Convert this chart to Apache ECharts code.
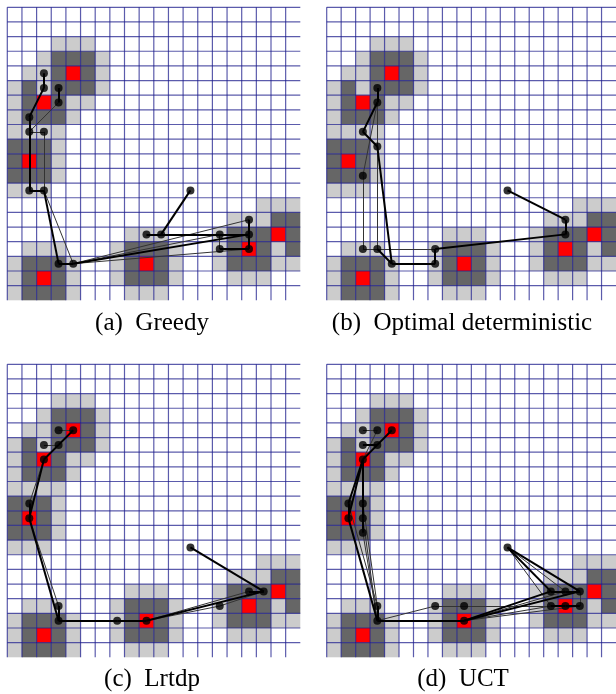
<!DOCTYPE html>
<html>
<head>
<meta charset="utf-8">
<script src="https://cdn.jsdelivr.net/npm/echarts@6/dist/echarts.min.js"></script>
<style>
  html, body { margin: 0; padding: 0; background: #fff; }
  #chart { width: 616px; height: 694px; }
</style>
</head>
<body>
<div id="chart"></div>
<script>
// the map is the same in all four panels, cells are [col, row] counted from top-left
var redCells = [[4,4],[2,6],[1,10],[2,18],[9,17],[16,16],[18,15]]
var darkCells = [
  [3,3],[4,3],[5,3],[3,4],[5,4],[3,5],[4,5],[5,5],
  [1,5],[1,6],[3,6],[1,7],[2,7],[3,7],
  [0,9],[1,9],[2,9],[0,10],[2,10],[0,11],[1,11],[2,11],
  [1,17],[2,17],[3,17],[1,18],[3,18],[1,19],[2,19],[3,19],
  [8,16],[9,16],[10,16],[8,17],[10,17],[8,18],[9,18],[10,18],
  [15,15],[16,15],[17,15],[15,16],[17,16],[15,17],[16,17],[17,17],
  [18,14],[19,14],[19,15],[19,16]
]
var lightCells = [
  [3,2],[4,2],[5,2],
  [2,3],[6,3],
  [1,4],[2,4],[6,4],
  [0,5],[2,5],[6,5],
  [0,6],[4,6],[5,6],
  [0,7],[4,7],
  [0,8],[1,8],[2,8],[3,8],
  [3,9],[3,10],[3,11],
  [0,12],[1,12],[2,12],
  [17,13],[18,13],[19,13],
  [15,14],[16,14],[17,14],
  [8,15],[9,15],[10,15],[14,15],
  [1,16],[2,16],[3,16],[7,16],[11,16],[14,16],[18,16],
  [0,17],[4,17],[7,17],[11,17],[14,17],[18,17],[19,17],
  [0,18],[4,18],[7,18],[11,18],[15,18],[16,18],[17,18],
  [0,19],[4,19],[8,19],[9,19],[10,19]
]
var gridTicks = [0,1,2,3,4,5,6,7,8,9,10,11,12,13,14,15,16,17,18,19]

var captions = ['(a)  Greedy', '(b)  Optimal deterministic', '(c)  Lrtdp', '(d)  UCT']

// trajectories, segments between cells [[c1,r1],[c2,r2]]
var greedyThick = [
  [[2,4],[2,5]], [[2,5],[1,7]], [[3,5],[3,6]], [[1,7],[1,8]], [[1,8],[1,12]], [[1,12],[2,12]],
  [[2,12],[3,17]], [[3,17],[4,17]], [[12,12],[10,15]], [[9,15],[10,15]], [[10,15],[14,15]],
  [[14,15],[16,15]], [[14,16],[16,16]], [[16,14],[16,15]], [[16,15],[16,16]], [[4,17],[16,15]]
]
var greedyThin = [
  [[3,6],[1,8]], [[1,8],[2,8]], [[2,8],[2,12]], [[2,12],[4,17]], [[4,17],[16,14]],
  [[4,17],[14,15]], [[4,17],[16,16]], [[14,15],[14,16]]
]
var optimalThick = [
  [[3,5],[3,6]], [[3,6],[2,8]], [[2,8],[3,9]], [[3,9],[4,17]], [[3,16],[4,17]], [[4,17],[7,17]],
  [[7,17],[7,16]], [[7,16],[16,15]], [[16,15],[16,14]], [[16,14],[12,12]]
]
var optimalThin = [
  [[3,6],[2,11]], [[3,6],[3,16]], [[2,11],[2,16]], [[2,16],[3,16]], [[3,16],[7,16]]
]
var lrtdpThick = [
  [[4,4],[3,5]], [[3,5],[2,6]], [[2,6],[1,10]], [[1,9],[1,10]], [[1,10],[3,17]], [[3,16],[3,17]],
  [[3,17],[7,17]], [[7,17],[9,17]], [[9,17],[17,15]], [[16,15],[17,15]], [[12,12],[17,15]]
]
var lrtdpThin = [
  [[3,4],[4,4]], [[2,5],[3,5]], [[2,6],[1,9]], [[1,10],[3,16]], [[9,17],[14,16]],
  [[9,17],[16,15]], [[14,16],[17,15]]
]
var uctThick = [
  [[4,4],[3,5]], [[3,5],[2,6]], [[2,5],[3,5]], [[2,6],[1,9]], [[2,6],[1,10]], [[2,6],[2,9]],
  [[1,9],[1,10]], [[2,9],[2,10]], [[2,10],[2,11]], [[1,10],[3,17]], [[3,16],[3,17]], [[3,17],[9,17]],
  [[9,17],[15,15]], [[9,17],[17,15]], [[15,15],[16,15]], [[16,15],[17,15]], [[15,16],[16,16]],
  [[16,16],[17,16]], [[12,12],[15,15]], [[12,12],[17,15]]
]
var uctThin = [
  [[2,4],[3,4]], [[3,4],[2,6]], [[1,9],[3,16]], [[2,9],[3,16]], [[2,10],[3,17]], [[2,11],[3,17]],
  [[3,17],[7,16]], [[7,16],[9,16]], [[9,16],[15,16]], [[9,17],[16,15]], [[9,17],[15,16]],
  [[9,17],[17,16]], [[12,12],[16,15]], [[12,12],[15,16]], [[17,15],[17,16]]
]

var panels = [
  { left: 7.3, top: 7.3, thick: greedyThick, thin: greedyThin, cx: 152, cy: 323 },
  { left: 326.7, top: 7.3, thick: optimalThick, thin: optimalThin, cx: 462, cy: 323 },
  { left: 7.3, top: 364.3, thick: lrtdpThick, thin: lrtdpThin, cx: 152, cy: 679 },
  { left: 326.7, top: 364.3, thick: uctThick, thin: uctThin, cx: 463, cy: 679 }
]
var cellSize = 14.65

var chart = echarts.init(document.getElementById('chart'))

function cellSeries(i, cells, color) {
  return {
    type: 'custom',
    xAxisIndex: i,
    yAxisIndex: i,
    silent: true,
    z: 1,
    data: cells,
    renderItem: function (params, api) {
      var p0 = api.coord([api.value(0), api.value(1)])
      var p1 = api.coord([api.value(0) + 1, api.value(1) + 1])
      return {
        type: 'rect',
        shape: {
          x: Math.min(p0[0], p1[0]), y: Math.min(p0[1], p1[1]),
          width: Math.abs(p1[0] - p0[0]), height: Math.abs(p1[1] - p0[1])
        },
        style: { fill: color }
      }
    }
  }
}

function gridSeries(i) {
  return {
    type: 'custom',
    xAxisIndex: i,
    yAxisIndex: i,
    silent: true,
    z: 2,
    data: gridTicks,
    renderItem: function (params, api) {
      var k = api.value(0)
      var v0 = api.coord([k, 0]), v1 = api.coord([k, 20])
      var h0 = api.coord([0, k]), h1 = api.coord([20, k])
      var st = { stroke: 'rgba(28,28,140,0.72)', lineWidth: 1.2 }
      return {
        type: 'group',
        children: [
          { type: 'line', shape: { x1: v0[0], y1: v0[1], x2: v1[0], y2: v1[1] }, style: st },
          { type: 'line', shape: { x1: h0[0], y1: h0[1], x2: h1[0], y2: h1[1] }, style: st }
        ]
      }
    }
  }
}

function segData(segs) {
  return segs.map(function (s) {
    return { coords: [[s[0][0] + 0.5, s[0][1] + 0.5], [s[1][0] + 0.5, s[1][1] + 0.5]] }
  })
}

function dotData(segs) {
  var seen = {}, out = []
  segs.forEach(function (s) {
    s.forEach(function (p) {
      var key = p[0] + '_' + p[1]
      if (!seen[key]) {
        seen[key] = true
        out.push([p[0] + 0.5, p[1] + 0.5])
      }
    })
  })
  return out
}

var grids = [], xAxes = [], yAxes = [], series = [], graphics = []
panels.forEach(function (p, i) {
  grids.push({ left: p.left, top: p.top, width: cellSize * 20, height: cellSize * 20 })
  xAxes.push({ type: 'value', gridIndex: i, min: 0, max: 20, show: false })
  yAxes.push({ type: 'value', gridIndex: i, min: 0, max: 20, inverse: true, show: false })
  series.push(cellSeries(i, lightCells, '#cccccc'))
  series.push(cellSeries(i, darkCells, '#666666'))
  series.push(cellSeries(i, redCells, '#ff0000'))
  series.push(gridSeries(i))
  series.push({
    type: 'lines', coordinateSystem: 'cartesian2d', xAxisIndex: i, yAxisIndex: i,
    silent: true, z: 4, data: segData(p.thin),
    lineStyle: { color: '#333333', width: 1, opacity: 1 }
  })
  series.push({
    type: 'lines', coordinateSystem: 'cartesian2d', xAxisIndex: i, yAxisIndex: i,
    silent: true, z: 5, data: segData(p.thick),
    lineStyle: { color: '#000000', width: 2, opacity: 1 }
  })
  series.push({
    type: 'scatter', xAxisIndex: i, yAxisIndex: i, silent: true, z: 6,
    symbol: 'circle', symbolSize: 8,
    itemStyle: { color: '#000000' },
    data: dotData(p.thick.concat(p.thin))
  })
  graphics.push({
    type: 'text', x: p.cx, y: p.cy,
    style: {
      text: captions[i], fill: '#000',
      fontFamily: 'Liberation Serif', fontSize: 25,
      align: 'center', verticalAlign: 'middle'
    }
  })
})

chart.setOption({
  animation: false,
  backgroundColor: '#ffffff',
  grid: grids,
  xAxis: xAxes,
  yAxis: yAxes,
  series: series,
  graphic: graphics
})
</script>
</body>
</html>
